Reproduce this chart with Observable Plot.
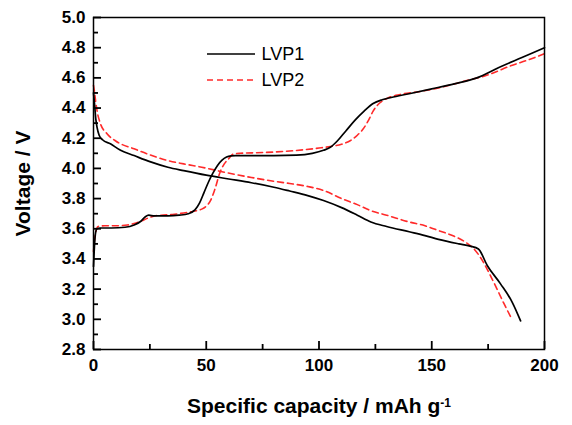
<!DOCTYPE html>
<html>
<head>
<meta charset="utf-8">
<script src="https://cdn.jsdelivr.net/npm/d3@7"></script>
<script src="https://cdn.jsdelivr.net/npm/@observablehq/plot@0.6"></script>
<style>
  body { margin: 0; background: #fff; }
  #chart { position: relative; width: 572px; height: 425px; }
</style>
</head>
<body>
<div id="chart"></div>
<script>
// ---- data ----
const seriesNames = ["LVP1", "LVP2"];

// charge curves (rising)
const charge1Cap = [0, 0.3, 0.8, 1.5, 3, 8, 14, 18, 21, 23, 24.5, 27, 33, 38, 42, 45, 47, 49, 51, 53, 55, 57, 59, 61, 63, 70, 80, 90, 97, 102, 105, 108, 112, 116, 120, 124, 128, 132, 140, 150, 160, 170, 180, 190, 200];
const charge1V   = [3.35, 3.45, 3.56, 3.60, 3.605, 3.605, 3.61, 3.625, 3.65, 3.68, 3.69, 3.685, 3.685, 3.69, 3.70, 3.725, 3.77, 3.84, 3.91, 3.97, 4.02, 4.055, 4.075, 4.083, 4.085, 4.085, 4.085, 4.088, 4.10, 4.12, 4.14, 4.18, 4.25, 4.32, 4.38, 4.43, 4.455, 4.47, 4.495, 4.527, 4.56, 4.60, 4.67, 4.735, 4.80];

const charge2Cap = [0, 0.5, 1.2, 2, 5, 10, 15, 18, 21, 24, 27, 30, 35, 40, 44, 48, 50, 52, 54, 56, 58, 60, 62, 65, 75, 87, 100, 105, 110, 114, 117, 120, 122, 124, 126, 128, 131, 136, 145, 155, 165, 175, 185, 193, 200];
const charge2V   = [3.45, 3.53, 3.59, 3.615, 3.62, 3.62, 3.625, 3.635, 3.65, 3.67, 3.685, 3.69, 3.695, 3.705, 3.715, 3.73, 3.75, 3.79, 3.87, 3.97, 4.03, 4.065, 4.095, 4.10, 4.105, 4.115, 4.135, 4.145, 4.16, 4.185, 4.22, 4.27, 4.32, 4.38, 4.42, 4.445, 4.47, 4.49, 4.51, 4.54, 4.58, 4.62, 4.68, 4.72, 4.76];

// discharge curves (falling)
const dis1Cap = [0, 0.5, 1, 1.6, 2.5, 4, 7.5, 12, 18, 25, 33, 40, 50, 60, 70, 80, 87, 95, 102, 110, 117, 123, 130, 140, 147, 153, 162, 167, 170.7, 174.6, 180.5, 185.7, 189.4];
const dis1V   = [4.50, 4.42, 4.33, 4.27, 4.22, 4.19, 4.163, 4.12, 4.085, 4.045, 4.008, 3.985, 3.955, 3.93, 3.905, 3.875, 3.85, 3.82, 3.787, 3.74, 3.69, 3.645, 3.615, 3.58, 3.555, 3.53, 3.50, 3.485, 3.466, 3.357, 3.235, 3.113, 2.99];

const dis2Cap = [0, 0.5, 1, 1.6, 3, 6, 10, 18, 25, 33, 40, 48, 58, 70, 80, 87, 95, 102, 110, 117, 123, 130, 140, 147, 153, 160, 165, 168.5, 171.6, 177.5, 182, 185.4];
const dis2V   = [4.55, 4.50, 4.44, 4.38, 4.30, 4.23, 4.18, 4.13, 4.09, 4.052, 4.03, 4.008, 3.975, 3.94, 3.915, 3.90, 3.88, 3.854, 3.80, 3.76, 3.72, 3.69, 3.645, 3.62, 3.588, 3.55, 3.511, 3.47, 3.41, 3.245, 3.105, 3.005];

// ticks
const xMajorTicks = [0, 50, 100, 150, 200];
const xMinorTicks = [25, 75, 125, 175];
const yMajorTicks = [2.8, 3.0, 3.2, 3.4, 3.6, 3.8, 4.0, 4.2, 4.4, 4.6, 4.8, 5.0];
const yMinorTicks = [2.9, 3.1, 3.3, 3.5, 3.7, 3.9, 4.1, 4.3, 4.5, 4.7, 4.9];

const xTitle = "Specific capacity / mAh g";
const xTitleSup = "-1";
const yTitle = "Voltage / V";

const xDomain = [0, 200];
const yDomain = [2.8, 5.0];

// build tables
const toRows = (xs, ys, series, branch) => xs.map((x, i) => ({x, y: ys[i], series, branch}));
const lvp1 = [...toRows(charge1Cap, charge1V, "LVP1", "charge"), ...toRows(dis1Cap, dis1V, "LVP1", "discharge")];
const lvp2 = [...toRows(charge2Cap, charge2V, "LVP2", "charge"), ...toRows(dis2Cap, dis2V, "LVP2", "discharge")];

const font = "'Liberation Sans', Arial, sans-serif";

// layout
const W = 572, H = 425, mL = 93, mR = 28, mT = 17, mB = 76;
const frameW = W - mL - mR, frameH = H - mT - mB;
const majorLen = 8, minorLen = 5;

const svg = Plot.plot({
  width: W,
  height: H,
  marginLeft: mL,
  marginRight: mR,
  marginTop: mT,
  marginBottom: mB,
  style: {fontFamily: font, background: "#fff", color: "#000", overflow: "visible"},
  x: {domain: xDomain},
  y: {domain: yDomain},
  marks: [
    Plot.line(lvp2, {x: "x", y: "y", z: "branch", stroke: "#ff2a2a", strokeWidth: 1.6, strokeDasharray: "6,4", curve: "monotone-x"}),
    Plot.line(lvp1, {x: "x", y: "y", z: "branch", stroke: "#000", strokeWidth: 1.7, curve: "monotone-x"}),
    // inward tick marks: full-frame ticks trimmed by insets to a short stub at the axis
    Plot.tickX(xMajorTicks, {x: d => d, insetTop: frameH - majorLen, stroke: "#000", strokeWidth: 1.8}),
    Plot.tickX(xMinorTicks, {x: d => d, insetTop: frameH - minorLen, stroke: "#000", strokeWidth: 1.8}),
    Plot.tickY(yMajorTicks, {y: d => d, insetRight: frameW - majorLen, stroke: "#000", strokeWidth: 1.8}),
    Plot.tickY(yMinorTicks, {y: d => d, insetRight: frameW - minorLen, stroke: "#000", strokeWidth: 1.8}),
    // tick labels
    Plot.axisX({ticks: xMajorTicks, anchor: "bottom", tickSize: 0, tickPadding: 9, label: null, fontSize: 17, fontWeight: "bold", letterSpacing: 0.8}),
    Plot.axisY({ticks: yMajorTicks, anchor: "left", tickSize: 0, tickPadding: 8, tickFormat: d3.format(".1f"), label: null, fontSize: 17, fontWeight: "bold", letterSpacing: 0.8}),
    Plot.frame({stroke: "#000", strokeWidth: 1.5}),
    Plot.text([xTitle], {text: d => d, frameAnchor: "bottom", dy: 57, textAnchor: "middle", lineAnchor: "middle", fontSize: 21, fontWeight: "bold", fill: "#000"}),
    Plot.text([yTitle], {text: d => d, frameAnchor: "left", dx: -70, rotate: -90, textAnchor: "middle", lineAnchor: "middle", fontSize: 21, fontWeight: "bold", fill: "#000"}),
    Plot.text([seriesNames[0]], {text: d => d, frameAnchor: "top-left", dx: 168, dy: 37, textAnchor: "start", lineAnchor: "middle", fontSize: 18, fill: "#000"}),
    Plot.text([seriesNames[1]], {text: d => d, frameAnchor: "top-left", dx: 168, dy: 63, textAnchor: "start", lineAnchor: "middle", fontSize: 18, fill: "#000"})
  ]
});

const root = d3.select(svg);

// superscript on x title
root.selectAll("text").filter(function() { return this.textContent === xTitle; })
  .append("tspan").attr("dy", "-0.55em").attr("font-size", 12).text(xTitleSup);

// legend line samples
const lg = root.append("g");
lg.append("line").attr("x1", 207).attr("x2", 255).attr("y1", 54).attr("y2", 54)
  .attr("stroke", "#000").attr("stroke-width", 1.7);
lg.append("line").attr("x1", 207).attr("x2", 255).attr("y1", 80).attr("y2", 80)
  .attr("stroke", "#ff2a2a").attr("stroke-width", 1.6).attr("stroke-dasharray", "6,4");

document.getElementById("chart").appendChild(svg);
</script>
</body>
</html>
